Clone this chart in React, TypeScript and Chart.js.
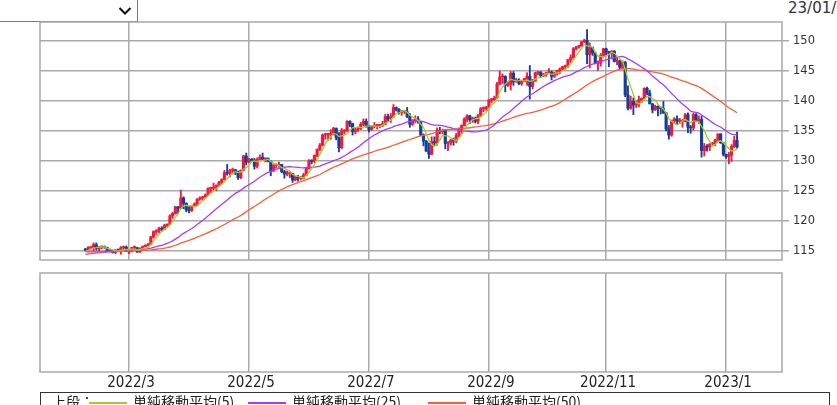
import React, { useEffect, useRef } from "react";
import { Chart, registerables } from "chart.js";

Chart.register(...registerables);

// closes before the first visible candle (2021/11/30 - 2022/02/04), used to warm up the moving averages
const priorCloses = [
  113.17,
  112.79, 113.19, 112.8, 113.48, 113.54, 113.71, 113.48, 113.43, 113.56, 113.73, 114.05, 113.7,
  113.71, 113.63, 114.08, 114.13, 114.4, 114.4, 114.86, 114.84, 114.97, 115.06, 115.08,
  115.3, 116.12, 116.11, 115.83, 115.57, 115.2, 115.3, 114.62, 114.2, 114.18, 114.6,
  114.61, 114.32, 114.06, 113.69, 113.96, 113.87, 114.66, 115.35, 115.26, 115.1,
  114.7, 114.47, 114.94, 115.25,
];

// daily candles [open, high, low, close]
const feb22 = [
  [115.2, 115.4, 114.9, 115.1], [115.1, 115.7, 115.0, 115.5], [115.5, 115.7, 115.3, 115.5], [115.5, 116.3, 115.0, 116.0],
  [116.0, 116.3, 115.1, 115.4], [115.3, 115.7, 114.9, 115.6], [115.6, 115.8, 115.3, 115.6], [115.6, 115.8, 115.4, 115.5],
  [115.5, 115.6, 114.9, 114.9], [114.9, 115.2, 114.8, 115.0], [115.0, 115.1, 114.6, 114.7], [114.7, 115.2, 114.5, 115.1],
  [115.1, 115.3, 114.9, 115.0], [115.0, 115.7, 114.4, 115.5], [115.5, 115.8, 115.3, 115.6], [115.6, 115.8, 114.9, 114.9],
];
const mar22 = [
  [114.9, 115.2, 114.5, 114.9], [114.9, 115.6, 114.8, 115.5], [115.5, 115.8, 115.3, 115.5], [115.5, 115.6, 114.7, 114.8],
  [114.8, 115.5, 114.7, 115.3], [115.3, 115.8, 115.1, 115.7], [115.7, 116.0, 115.6, 115.9], [115.9, 116.2, 115.8, 116.1],
  [116.1, 117.4, 116.0, 117.3], [117.3, 118.3, 117.1, 118.2], [118.2, 118.5, 117.7, 118.3], [118.3, 118.9, 118.0, 118.7],
  [118.7, 119.0, 118.3, 118.6], [118.6, 119.4, 118.5, 119.2], [119.2, 119.5, 119.0, 119.4], [119.4, 121.0, 119.3, 120.8],
  [120.8, 121.4, 120.4, 121.2], [121.2, 122.4, 121.1, 122.3], [122.3, 122.4, 121.2, 122.1], [122.1, 125.1, 122.0, 123.8],
  [123.8, 124.0, 122.0, 122.9], [122.9, 123.0, 121.5, 121.8], [121.8, 122.4, 121.3, 121.7],
];
const apr22 = [
  [121.7, 122.6, 121.5, 122.5], [122.5, 123.0, 122.3, 122.8], [122.8, 123.7, 122.5, 123.6], [123.6, 124.0, 123.4, 123.8],
  [123.8, 124.1, 123.5, 124.0], [124.0, 124.5, 123.8, 124.3], [124.3, 125.5, 124.2, 125.4], [125.4, 125.6, 124.7, 125.4],
  [125.4, 126.3, 125.1, 125.6], [125.6, 126.0, 125.0, 125.9], [125.9, 126.6, 125.8, 126.4], [126.4, 127.0, 126.2, 126.9],
  [126.9, 128.4, 126.8, 128.0], [128.0, 129.4, 127.6, 127.9], [127.9, 128.6, 127.3, 128.4], [128.4, 128.8, 127.8, 128.5],
  [128.5, 128.6, 127.7, 128.1], [128.1, 128.3, 126.9, 127.2], [127.2, 128.5, 127.0, 128.4], [128.4, 130.9, 128.3, 130.8],
  [130.8, 131.3, 129.3, 129.8],
];
const may22 = [
  [129.8, 130.4, 129.7, 130.2], [130.2, 130.4, 129.9, 130.1], [130.1, 130.4, 128.6, 129.1], [129.1, 130.5, 128.8, 130.2],
  [130.2, 131.0, 130.0, 130.6], [130.6, 131.3, 130.2, 130.3], [130.3, 130.5, 129.8, 130.4], [130.4, 130.5, 129.8, 129.9],
  [129.9, 130.0, 127.5, 128.3], [128.3, 129.4, 128.2, 129.2], [129.2, 129.5, 128.8, 129.2], [129.2, 129.8, 128.9, 129.4],
  [129.4, 129.4, 128.0, 128.2], [128.2, 128.4, 127.1, 127.8], [127.8, 128.3, 127.5, 127.9], [127.9, 128.0, 127.2, 127.9],
  [127.9, 127.9, 126.4, 126.8], [126.8, 127.5, 126.7, 127.3], [127.3, 127.6, 126.6, 127.1], [127.1, 127.4, 126.8, 127.1],
  [127.1, 127.9, 127.0, 127.6], [127.6, 128.8, 127.5, 128.7],
];
const jun22 = [
  [128.7, 130.2, 128.6, 130.0], [130.0, 130.2, 129.5, 129.9], [129.9, 131.0, 129.7, 130.9], [130.9, 132.0, 130.7, 131.9],
  [131.9, 132.9, 131.7, 132.6], [132.6, 134.5, 132.5, 134.3], [134.3, 134.6, 133.6, 134.4], [134.4, 134.6, 133.4, 134.4],
  [134.4, 135.2, 133.6, 134.4], [134.4, 135.6, 134.3, 135.4], [135.4, 135.5, 133.5, 133.8], [133.8, 134.7, 131.5, 132.2],
  [132.2, 135.4, 132.0, 135.0], [135.0, 135.2, 134.5, 135.0], [135.0, 136.7, 134.9, 136.6], [136.6, 136.7, 135.7, 136.2],
  [136.2, 136.3, 134.3, 134.9], [134.9, 135.4, 134.5, 135.2], [135.2, 135.6, 134.9, 135.4], [135.4, 136.4, 135.2, 136.1],
  [136.1, 137.0, 135.8, 136.6], [136.6, 137.0, 135.6, 135.7],
];
const jul22 = [
  [135.7, 135.9, 134.8, 135.2], [135.2, 135.9, 135.1, 135.7], [135.7, 136.4, 135.5, 135.9], [135.9, 136.0, 135.3, 135.9],
  [135.9, 136.1, 135.5, 136.0], [136.0, 136.6, 135.7, 136.1], [136.1, 137.8, 136.0, 137.4], [137.4, 137.8, 136.6, 137.0],
  [137.0, 137.9, 136.4, 137.4], [137.4, 139.4, 137.2, 138.9], [138.9, 139.0, 138.3, 138.6], [138.6, 138.7, 137.8, 138.1],
  [138.1, 138.4, 137.6, 138.2], [138.2, 138.4, 137.9, 138.2], [138.2, 138.9, 137.2, 137.4], [137.4, 137.9, 135.6, 136.1],
  [136.1, 136.9, 135.9, 136.7], [136.7, 137.5, 136.4, 137.0], [137.0, 137.4, 136.3, 136.5], [136.5, 136.6, 134.2, 134.3],
  [134.3, 134.5, 132.5, 133.3],
];
const aug22 = [
  [133.3, 133.4, 131.6, 131.6], [131.6, 133.0, 130.4, 131.1], [131.1, 134.0, 131.0, 133.2], [133.2, 134.0, 132.5, 133.0],
  [133.0, 135.5, 132.6, 135.0], [135.0, 135.6, 134.5, 134.9], [134.9, 135.3, 134.5, 135.1], [135.1, 135.2, 132.0, 132.9],
  [132.9, 133.2, 131.7, 133.0], [133.0, 133.6, 132.6, 133.4], [133.4, 133.8, 132.6, 133.3], [133.3, 134.6, 133.0, 134.2],
  [134.2, 135.5, 134.0, 135.0], [135.0, 136.0, 134.6, 135.9], [135.9, 137.2, 135.8, 137.0], [137.0, 137.7, 136.5, 137.5],
  [137.5, 137.6, 136.2, 136.8], [136.8, 137.3, 136.4, 137.1], [137.1, 137.3, 136.3, 136.6], [136.6, 137.7, 136.2, 137.5],
  [137.5, 138.9, 137.5, 138.7], [138.7, 139.0, 138.2, 138.7], [138.7, 139.1, 138.4, 138.9],
];
const sep22 = [
  [138.9, 140.2, 138.8, 140.2], [140.2, 140.4, 139.7, 140.2], [140.2, 140.8, 140.1, 140.5], [140.5, 143.1, 140.4, 142.8],
  [142.8, 145.0, 142.7, 144.0], [144.0, 144.5, 142.9, 144.1], [144.1, 144.2, 141.5, 142.6], [142.6, 143.2, 142.4, 142.8],
  [142.8, 144.9, 141.8, 144.6], [144.6, 144.9, 142.6, 143.2], [143.2, 143.8, 143.1, 143.5], [143.5, 143.7, 142.7, 142.9],
  [142.9, 143.3, 142.6, 143.2], [143.2, 143.8, 143.2, 143.7], [143.7, 144.7, 142.6, 144.1], [144.1, 145.9, 140.3, 142.4],
  [142.4, 143.6, 142.0, 143.3], [143.3, 144.8, 143.3, 144.7], [144.7, 144.9, 144.4, 144.8], [144.8, 144.9, 143.9, 144.2],
  [144.2, 144.6, 144.0, 144.4], [144.4, 144.8, 144.1, 144.7],
];
const oct22 = [
  [144.7, 145.4, 144.6, 144.8], [144.8, 145.0, 143.5, 144.1], [144.1, 144.8, 143.9, 144.6], [144.6, 145.1, 144.3, 145.1],
  [145.1, 145.5, 144.5, 145.3], [145.3, 145.8, 145.2, 145.7], [145.7, 146.0, 145.2, 145.8], [145.8, 146.9, 145.6, 146.9],
  [146.9, 147.7, 146.4, 147.2], [147.2, 148.9, 147.1, 148.7], [148.7, 149.1, 148.5, 149.0], [149.0, 149.3, 148.8, 149.2],
  [149.2, 149.9, 149.1, 149.9], [149.9, 150.3, 149.7, 150.1], [150.1, 151.9, 146.2, 147.7], [147.7, 149.7, 145.5, 148.9],
  [148.9, 149.0, 147.6, 148.0], [148.0, 148.1, 146.2, 146.3], [146.3, 146.7, 145.1, 146.3], [146.3, 147.9, 145.8, 147.6],
  [147.6, 148.8, 147.3, 148.7],
];
const nov22 = [
  [148.7, 148.8, 147.7, 148.2], [148.2, 148.3, 145.7, 147.9], [147.9, 148.4, 147.0, 148.3], [148.3, 148.4, 146.5, 146.6],
  [146.6, 147.3, 146.0, 146.6], [146.6, 146.8, 145.3, 145.6], [145.6, 146.7, 145.3, 146.4], [146.4, 146.6, 140.7, 141.0],
  [141.0, 142.5, 138.5, 138.8], [138.8, 140.8, 138.6, 139.9], [139.9, 140.5, 137.7, 139.3], [139.3, 140.0, 138.9, 139.5],
  [139.5, 140.8, 139.0, 140.2], [140.2, 140.5, 139.7, 140.4], [140.4, 142.2, 140.3, 142.1], [142.1, 142.3, 141.0, 141.3],
  [141.3, 141.8, 139.5, 139.5], [139.5, 139.6, 138.0, 138.5], [138.5, 139.3, 138.4, 139.1], [139.1, 139.2, 137.5, 138.9],
  [138.9, 139.0, 137.8, 138.7], [138.7, 139.9, 137.9, 138.0],
];
const dec22 = [
  [138.0, 138.1, 135.0, 135.3], [135.3, 135.9, 133.6, 134.3], [134.3, 136.8, 134.1, 136.7], [136.7, 137.2, 136.2, 137.0],
  [137.0, 137.5, 136.2, 136.6], [136.6, 137.1, 136.2, 136.6], [136.6, 136.9, 135.6, 136.6], [136.6, 137.9, 136.5, 137.7],
  [137.7, 138.0, 134.7, 135.6], [135.6, 135.9, 134.6, 135.5], [135.5, 138.0, 135.1, 137.7], [137.7, 137.9, 136.5, 136.7],
  [136.7, 137.5, 136.2, 136.9], [136.9, 137.5, 130.6, 131.7], [131.7, 132.9, 130.8, 132.4], [132.4, 132.7, 131.6, 132.3],
  [132.3, 132.9, 131.7, 132.8], [132.8, 133.1, 132.6, 132.9], [132.9, 133.6, 132.5, 133.5], [133.5, 134.5, 133.4, 134.5],
  [134.5, 134.5, 132.9, 133.0], [133.0, 133.1, 130.8, 131.1],
];
const jan23 = [
  [131.1, 131.1, 130.4, 130.7], [130.7, 131.4, 129.5, 131.0], [131.0, 132.7, 129.9, 132.4], [132.4, 134.1, 132.2, 133.4],
  [133.4, 134.8, 132.1, 132.3],
];

// axis: trading-day index (0 = 2022/02/07)
const xMin = -16.65;
const xMax = 255.5;
const tickIdx = [16, 60, 104, 148, 191, 235];
const tickLabels = ["2022/3", "2022/5", "2022/7", "2022/9", "2022/11", "2023/1"];
const yTicks = [115, 120, 125, 130, 135, 140, 145, 150];
const yMin = 113.45;
const yMax = 153.17;
const maPeriods = [5, 25, 50];
const maLabels = ["単純移動平均(5)", "単純移動平均(25)", "単純移動平均(50)"];
const maColors = ["#9fcf1f", "#a43cff", "#ff5a32"];
const upColor = "#f5163f";
const downColor = "#173d9c";
const gridColor = "#a9a9a9";
const dateLabel = "23/01/06";

const candles = [...feb22, ...mar22, ...apr22, ...may22, ...jun22, ...jul22, ...aug22, ...sep22, ...oct22, ...nov22, ...dec22, ...jan23];

const framePlugin = {
  id: "frame",
  beforeDatasetsDraw(chart: any) {
    const { ctx, chartArea: a } = chart;
    ctx.save();
    ctx.strokeStyle = gridColor;
    ctx.lineWidth = 1.5;
    ctx.strokeRect(a.left, a.top, a.right - a.left, a.bottom - a.top);
    ctx.restore();
  },
};

function movingAverage(n: number) {
  const all = [...priorCloses, ...candles.map((c) => c[3])];
  const off = priorCloses.length;
  return candles.map((_, i) => {
    let s = 0;
    for (let k = off + i - n + 1; k <= off + i; k++) s += all[k];
    return { x: i, y: s / n };
  });
}

const xTicksFn = (scale: any) => {
  scale.ticks = tickIdx.map((v) => ({ value: v }));
};

export default function App() {
  const topRef = useRef<HTMLCanvasElement>(null);
  const botRef = useRef<HTMLCanvasElement>(null);

  useEffect(() => {
    const colors = candles.map((c) => (c[3] >= c[0] ? upColor : downColor));
    const lineSets = maPeriods.map((p, k) => ({
      type: "line" as const,
      label: maLabels[k],
      data: movingAverage(p),
      borderColor: maColors[k],
      borderWidth: 1.3,
      pointRadius: 0,
      tension: 0,
      order: k,
    }));
    const top = new Chart(topRef.current!, {
      type: "bar",
      data: {
        datasets: [
          ...lineSets,
          {
            type: "bar",
            label: "body",
            data: candles.map((c, i) => ({ x: i, y: [c[0], c[3]] })),
            backgroundColor: colors,
            barThickness: 2.5,
            minBarLength: 1,
            grouped: false,
            order: 10,
          } as any,
          {
            type: "bar",
            label: "wick",
            data: candles.map((c, i) => ({ x: i, y: [c[2], c[1]] })),
            backgroundColor: colors,
            barThickness: 1.2,
            grouped: false,
            order: 11,
          } as any,
        ],
      },
      options: {
        animation: false,
        responsive: false,
        layout: { padding: { left: 40, top: 22, right: 0, bottom: 12 } },
        plugins: { legend: { display: false }, tooltip: { enabled: false } },
        events: [],
        scales: {
          x: {
            type: "linear",
            min: xMin,
            max: xMax,
            offset: false,
            afterBuildTicks: xTicksFn,
            afterFit: (s: any) => {
              s.height = 0;
            },
            grid: { color: gridColor, lineWidth: 1.5, drawTicks: false, offset: false },
            border: { display: false },
            ticks: { display: false },
          },
          y: {
            type: "linear",
            position: "right",
            min: yMin,
            max: yMax,
            afterBuildTicks: (s: any) => {
              s.ticks = yTicks.map((v) => ({ value: v }));
            },
            afterFit: (s: any) => {
              s.width = 55;
            },
            grid: { color: gridColor, lineWidth: 1.5, tickLength: 7, offset: false },
            border: { display: false },
            ticks: {
              padding: 4,
              color: "#333",
              font: { family: "'DejaVu Sans', sans-serif", size: 11.5 },
              callback: (v: any) => String(v),
            },
          },
        },
      } as any,
      plugins: [framePlugin],
    });

    const bot = new Chart(botRef.current!, {
      type: "line",
      data: { datasets: [] },
      options: {
        animation: false,
        responsive: false,
        layout: { padding: { left: 40, top: 11, right: 0, bottom: 0 } },
        plugins: { legend: { display: false }, tooltip: { enabled: false } },
        events: [],
        scales: {
          x: {
            type: "linear",
            min: xMin,
            max: xMax,
            offset: false,
            afterBuildTicks: xTicksFn,
            afterFit: (s: any) => {
              s.height = 33;
            },
            grid: { color: gridColor, lineWidth: 1.5, drawTicks: false, offset: false },
            border: { display: false },
            ticks: {
              autoSkip: false,
              maxRotation: 0,
              padding: 2,
              labelOffset: 2,
              color: "#222",
              font: { family: "'DejaVu Sans Condensed', 'Liberation Sans Narrow', 'DejaVu Sans', sans-serif", size: 15 },
              callback: (v: any) => {
                const k = tickIdx.indexOf(v);
                return k >= 0 ? tickLabels[k] : "";
              },
            },
          },
          y: {
            type: "linear",
            position: "right",
            min: 0,
            max: 1,
            afterFit: (s: any) => {
              s.width = 55;
            },
            grid: { display: false },
            border: { display: false },
            ticks: { display: false },
          },
        },
      } as any,
      plugins: [framePlugin],
    });

    return () => {
      top.destroy();
      bot.destroy();
    };
  }, []);

  const legendText: React.CSSProperties = {
    position: "absolute",
    top: 1,
    fontSize: 14,
    lineHeight: "14px",
    whiteSpace: "nowrap",
    color: "#222",
    fontFamily: "'Noto Sans CJK JP', sans-serif",
  };
  const legendLine = (left: number, color: string): React.CSSProperties => ({
    position: "absolute",
    left,
    top: 9,
    width: 38,
    height: 2,
    background: color,
  });
  const lineLefts = [48, 207, 387];
  const textLefts = [92, 251, 431];

  return (
    <div
      style={{
        position: "absolute",
        left: 0,
        top: 0,
        width: 837,
        height: 405,
        overflow: "hidden",
        background: "#fff",
      }}
    >
      <div
        style={{
          position: "absolute",
          left: -40,
          top: -1,
          width: 176,
          height: 21,
          border: "1px solid #767676",
          background: "#fff",
        }}
      >
        <svg
          width="14"
          height="10"
          style={{ position: "absolute", left: 157, top: 6 }}
        >
          <polyline points="1.5,2 7,7.5 12.5,2" fill="none" stroke="#111" strokeWidth="2" />
        </svg>
      </div>
      <div
        style={{
          position: "absolute",
          left: 788,
          top: 0,
          fontSize: 15,
          lineHeight: "17px",
          color: "#333",
          fontFamily: "'DejaVu Sans', sans-serif",
          whiteSpace: "nowrap",
        }}
      >
        {dateLabel}
      </div>
      <canvas
        ref={topRef}
        width={837}
        height={272}
        style={{ position: "absolute", left: 0, top: 0, display: "block" }}
      />
      <canvas
        ref={botRef}
        width={837}
        height={143}
        style={{ position: "absolute", left: 0, top: 262, display: "block" }}
      />
      <div
        style={{
          position: "absolute",
          left: 40,
          top: 392,
          width: 788,
          height: 30,
          border: "1px solid #333",
          background: "#fff",
        }}
      >
        <span style={{ ...legendText, left: 11 }}>上段：</span>
        {maLabels.map((t, k) => (
          <React.Fragment key={t}>
            <div style={legendLine(lineLefts[k], maColors[k])} />
            <span style={{ ...legendText, left: textLefts[k] }}>{t}</span>
          </React.Fragment>
        ))}
      </div>
    </div>
  );
}
